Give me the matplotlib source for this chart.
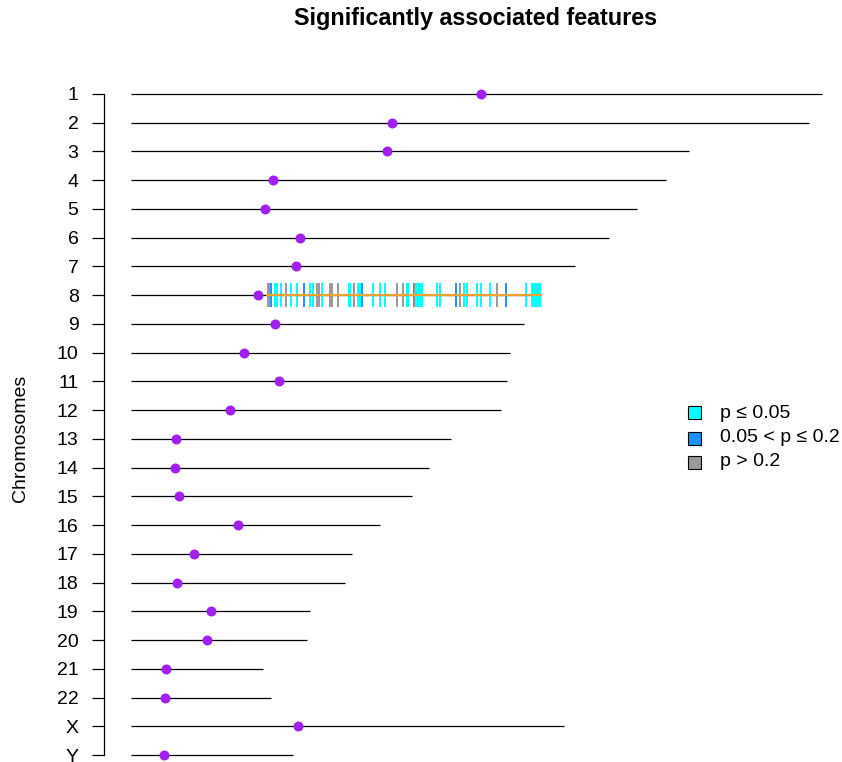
import matplotlib
matplotlib.use("Agg")
import matplotlib.pyplot as plt
from matplotlib.patches import Rectangle

plt.rcParams['font.family'] = ['Liberation Sans', 'DejaVu Sans']

# ---------------- data ----------------
chromosomes = ['1', '2', '3', '4', '5', '6', '7', '8', '9', '10', '11', '12',
               '13', '14', '15', '16', '17', '18', '19', '20', '21', '22', 'X', 'Y']
chrom_length_mb = [249.2, 244.8, 201.2, 192.9, 182.5, 172.3, 160.3, 147.9, 141.7,
                   136.7, 135.7, 133.6, 115.3, 107.4, 101.4, 89.8, 79.6, 77.0,
                   64.6, 63.3, 47.7, 50.3, 156.2, 58.5]
centromere_mb = [126.2, 94.1, 92.3, 51.2, 48.3, 60.9, 59.5, 45.6, 51.9, 40.7,
                 53.3, 35.6, 16.1, 15.8, 17.2, 38.6, 22.5, 16.4, 28.9, 27.4,
                 12.5, 12.1, 60.1, 11.7]

# significant features on chromosome 8 (position in Mb, p-value class)
feature_chrom = '8'
feature_pos_mb = [49.2, 49.7, 50.3, 52.0, 52.6, 54.0, 55.7, 56.0, 57.5, 59.7,
                  62.2, 64.6, 65.7, 67.1, 67.7, 69.0, 71.8, 72.5, 74.6, 78.5,
                  79.1, 80.3, 81.7, 82.7, 83.4, 87.1, 89.9, 91.7, 96.0, 98.0,
                  99.6, 100.0, 101.9, 102.3, 102.8, 103.3, 103.9, 104.4, 104.9,
                  110.3, 111.4, 117.3, 118.8, 120.0, 121.2, 124.8, 126.4, 129.6,
                  132.0, 135.2, 142.6, 144.7, 145.4, 146.1, 146.8, 147.5]
feature_class = ['high', 'high', 'mid', 'low', 'low', 'low', 'high', 'high', 'low', 'low',
                 'mid', 'low', 'low', 'high', 'high', 'low', 'high', 'high', 'high', 'low',
                 'low', 'high', 'low', 'low', 'mid', 'low', 'low', 'low', 'high', 'high',
                 'low', 'low', 'mid', 'high', 'low', 'low', 'low', 'low', 'low',
                 'low', 'low', 'mid', 'high', 'low', 'low', 'low', 'low', 'low',
                 'high', 'mid', 'low', 'low', 'low', 'low', 'low', 'low']
region_start_mb = 48.6
region_end_mb = 147.9

legend_labels = ['p \u2264 0.05', '0.05 < p \u2264 0.2', 'p > 0.2']
class_keys = ['low', 'mid', 'high']
class_colors = {'low': '#00FFFF', 'mid': '#1E90FF', 'high': '#999999'}

# ---------------- layout ----------------
W, H = 842, 762
fig = plt.figure(figsize=(W / 100, H / 100), dpi=100)

px_per_mb = 2.77
x0_px = 131.3
ax_left_px, ax_right_px = 104, 842
ax_top_px, ax_bot_px = 60, 762
row0_px, row_step = 94, 28.74

ax = fig.add_axes([ax_left_px / W, 1 - ax_bot_px / H,
                   (ax_right_px - ax_left_px) / W, (ax_bot_px - ax_top_px) / H])
ax.set_xlim((ax_left_px - x0_px) / px_per_mb, (ax_right_px - x0_px) / px_per_mb)
ax.set_ylim((ax_bot_px - row0_px) / row_step, (ax_top_px - row0_px) / row_step)

rows = list(range(len(chromosomes)))

# chromosome lines
for r, L in zip(rows, chrom_length_mb):
    ax.plot([0, L], [r, r], color='black', lw=0.9, solid_capstyle='butt', zorder=1)

# features
r8 = chromosomes.index(feature_chrom)
half = 12 / row_step
for pos, cl in zip(feature_pos_mb, feature_class):
    ax.plot([pos, pos], [r8 - half, r8 + half], color=class_colors[cl], lw=1.4,
            solid_capstyle='butt', zorder=2)
ax.plot([region_start_mb, region_end_mb], [r8, r8], color='#F2A22E', lw=1.6,
        solid_capstyle='butt', zorder=3)

# centromeres
ax.plot(centromere_mb, rows, 'o', color='#A020F0', markersize=7.2,
        markeredgewidth=0, zorder=4, clip_on=False)

# axes styling
for s in ['top', 'right', 'bottom']:
    ax.spines[s].set_visible(False)
ax.spines['left'].set_bounds(0, len(chromosomes) - 1)
ax.spines['left'].set_linewidth(0.9)
ax.set_yticks(rows)
ax.set_yticklabels(chromosomes)
ax.tick_params(axis='y', length=8.6, width=0.9, pad=9.7, labelsize=14)
ax.set_xticks([])

# labels
fig.text(476 / W, 1 - 18 / H, 'Significantly associated features', ha='center',
         va='center', fontsize=16.8, fontweight='bold')
fig.text(21 / W, 1 - 438 / H, 'Chromosomes', ha='center', va='center',
         rotation=90, fontsize=14)

# legend
leg_y = [413, 438, 462]
for k, lab, yy in zip(class_keys, legend_labels, leg_y):
    fig.patches.append(Rectangle(((688) / W, 1 - (yy + 6.5) / H), 13 / W, 13 / H,
                                 transform=fig.transFigure, facecolor=class_colors[k],
                                 edgecolor='black', lw=0.8))
    fig.text(720 / W, 1 - yy / H, lab, ha='left', va='center', fontsize=14)

fig.savefig('out.png', dpi=100)
